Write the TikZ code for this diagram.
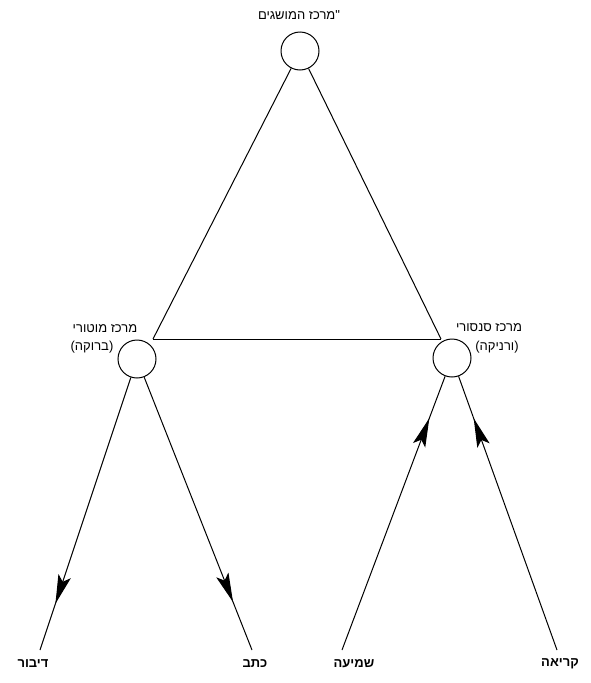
\documentclass[tikz,border=0pt]{standalone}
\usepackage{fontspec}
\setmainfont{Liberation Sans}
\newfontfamily\hebfont[Script=Hebrew]{Liberation Sans}
\TeXXeTstate=1
\usetikzlibrary{arrows.meta,decorations.markings}
\begin{document}
\begin{tikzpicture}[x=1pt,y=-1pt,
  hub/.style={circle,draw,line width=1pt,minimum size=38pt,inner sep=0pt},
  lbl/.style={font=\hebfont\fontsize{13}{14}\selectfont,inner sep=0pt},
  blbl/.style={font=\hebfont\bfseries\fontsize{13}{14}\selectfont,inner sep=0pt},
  conn/.style={line width=1pt},
  arrowat/.style={conn,postaction={decorate},decoration={markings,mark=at position #1 with {\arrow{Stealth[length=29pt,width=13pt,inset=6pt]}}}},
]
\useasboundingbox (0,0) rectangle (590,683);
\node[hub] (T) at (300,51) {};
\node[hub] (L) at (137,359) {};
\node[hub] (R) at (452,358) {};
\coordinate (vL) at (153,339);
\coordinate (vR) at (441,339);
\draw[conn] (T) -- (vL);
\draw[conn] (T) -- (vR);
\draw[conn] (vL) -- (vR);
\node[lbl] (tl) at (299,15) {\hbox{\beginR מרכז המושגים\endR}\hbox{\fontspec{Liberation Sans}"}};
\node[lbl] (ll1) at (105,329) {\beginR מרכז מוטורי\endR};
\node[lbl] (ll2) at (92,347) {\beginR (ברוקה)\endR};
\node[lbl] (rl1) at (489,328) {\beginR מרכז סנסורי\endR};
\node[lbl] (rl2) at (497,347) {\beginR (ורניקה)\endR};
\node[blbl] (b1) at (33,664) {\beginR דיבור\endR};
\node[blbl] (b2) at (255,664) {\beginR כתב\endR};
\node[blbl] (b3) at (354,664) {\beginR שמיעה\endR};
\node[blbl] (b4) at (560,664) {\beginR קריאה\endR};
\coordinate (eA) at (40,650);
\coordinate (eB) at (252,650);
\coordinate (eC) at (342,650);
\coordinate (eD) at (557,650);
\draw[arrowat=0.83] (L) -- (eA);
\draw[arrowat=0.824] (L) -- (eB);
\draw[arrowat=0.847] (eC) -- (R);
\draw[arrowat=0.847] (eD) -- (R);
\end{tikzpicture}
\end{document}
